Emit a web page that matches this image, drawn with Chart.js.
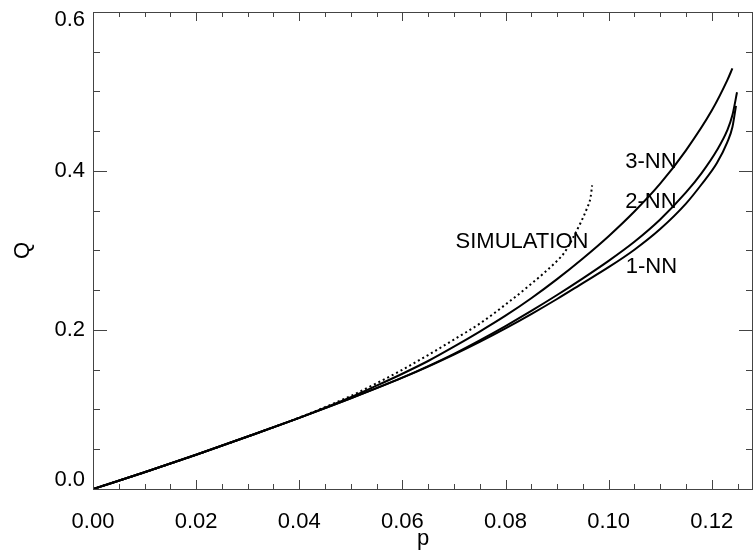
<!DOCTYPE html>
<html>
<head>
<meta charset="utf-8">
<script src="https://cdn.jsdelivr.net/npm/chart.js@4/dist/chart.umd.min.js"></script>
<style>
  body { margin: 0; background: #fff; }
  canvas { display: block; }
</style>
</head>
<body>
<canvas id="myChart" width="754" height="554"></canvas>
<script>
// values
const nn1P = [0, 0.01, 0.02, 0.03, 0.04, 0.05, 0.06, 0.065, 0.07, 0.075, 0.08, 0.085, 0.09, 0.095, 0.1, 0.105, 0.11, 0.115, 0.118, 0.121, 0.123, 0.124, 0.1247];
const nn1Q = [0, 0.021, 0.043, 0.066, 0.0895, 0.114, 0.140, 0.154, 0.169, 0.185, 0.202, 0.220, 0.239, 0.259, 0.279, 0.301, 0.327, 0.359, 0.383, 0.410, 0.436, 0.455, 0.482];

const nn2P = [0, 0.01, 0.02, 0.03, 0.04, 0.05, 0.06, 0.065, 0.07, 0.075, 0.08, 0.085, 0.09, 0.095, 0.1, 0.105, 0.11, 0.115, 0.118, 0.121, 0.123, 0.124, 0.1249];
const nn2Q = [0, 0.021, 0.043, 0.066, 0.0895, 0.114, 0.140, 0.1545, 0.170, 0.187, 0.205, 0.224, 0.244, 0.265, 0.287, 0.311, 0.339, 0.373, 0.397, 0.426, 0.451, 0.470, 0.499];

const nn3P = [0, 0.01, 0.02, 0.03, 0.04, 0.05, 0.055, 0.06, 0.065, 0.07, 0.075, 0.08, 0.085, 0.09, 0.095, 0.1, 0.105, 0.11, 0.115, 0.12, 0.123, 0.124];
const nn3Q = [0, 0.021, 0.043, 0.066, 0.0895, 0.1155, 0.130, 0.145, 0.161, 0.179, 0.198, 0.218, 0.240, 0.264, 0.290, 0.318, 0.349, 0.384, 0.426, 0.476, 0.514, 0.529];

const simP = [0, 0.01, 0.02, 0.03, 0.04, 0.045, 0.05, 0.055, 0.06, 0.065, 0.07, 0.075, 0.08, 0.085, 0.09, 0.0915, 0.093, 0.0945, 0.0958, 0.0965, 0.0968];
const simQ = [0, 0.021, 0.043, 0.066, 0.0898, 0.103, 0.117, 0.133, 0.150, 0.1685, 0.188, 0.208, 0.232, 0.258, 0.287, 0.298, 0.315, 0.334, 0.353, 0.367, 0.382];

const xTicks = [0, 0.02, 0.04, 0.06, 0.08, 0.10, 0.12];
const xTickLabels = ['0.00', '0.02', '0.04', '0.06', '0.08', '0.10', '0.12'];
const yTicks = [0, 0.2, 0.4, 0.6];
const yTickLabels = ['0.0', '0.2', '0.4', '0.6'];

// curve names, placed in data units
const curveNames = ['3-NN', '2-NN', '1-NN', 'SIMULATION'];
const nameP = [0.1082, 0.1082, 0.1083, 0.0832];
const nameQ = [0.411, 0.361, 0.279, 0.311];

const pts = (xs, ys) => xs.map((x, i) => ({ x: x, y: ys[i] }));
const FONT = '"Liberation Sans", Arial, sans-serif';

// frame with inward ticks on all four sides, y labels (kept inside the frame height) + curve names
const framePlugin = {
    id: 'frame',
    afterDraw(chart) {
        const { ctx, chartArea: a, scales } = chart;
        const xs = scales.x, ys = scales.y;
        ctx.save();
        ctx.strokeStyle = '#444';
        ctx.lineWidth = 1;
        ctx.strokeRect(a.left + 0.5, a.top + 0.5, a.right - a.left - 1, a.bottom - a.top);
        ctx.beginPath();
        for (let i = 0; i <= 25; i++) {
            const v = i * 0.005;
            const px = Math.round(xs.getPixelForValue(v)) + 0.5;
            const len = i % 4 === 0 ? 9 : 5;
            ctx.moveTo(px, a.bottom); ctx.lineTo(px, a.bottom - len);
            ctx.moveTo(px, a.top); ctx.lineTo(px, a.top + len);
        }
        for (let i = 0; i <= 12; i++) {
            const v = i * 0.05;
            const py = Math.round(ys.getPixelForValue(v)) + 0.5;
            const len = i % 4 === 0 ? 14 : 7;
            ctx.moveTo(a.left, py); ctx.lineTo(a.left + len, py);
            ctx.moveTo(a.right, py); ctx.lineTo(a.right - len, py);
        }
        ctx.stroke();

        ctx.fillStyle = '#000';
        ctx.font = '22px ' + FONT;
        ctx.textBaseline = 'middle';
        ctx.textAlign = 'right';
        yTicks.forEach((v, i) => {
            let py = ys.getPixelForValue(v);
            py = Math.min(Math.max(py, a.top + 8), a.bottom - 9);
            ctx.fillText(yTickLabels[i], a.left - 8, py);
        });

        ctx.textAlign = 'center';
        curveNames.forEach((t, i) => {
            ctx.fillText(t, xs.getPixelForValue(nameP[i]), ys.getPixelForValue(nameQ[i]));
        });
        ctx.restore();
    }
};

const canvas = document.querySelector('#myChart');

new Chart(canvas, {
    type: 'line',
    data: {
        datasets: [
            { data: pts(nn1P, nn1Q), borderColor: '#000', borderWidth: 2, pointRadius: 0, cubicInterpolationMode: 'monotone' },
            { data: pts(nn2P, nn2Q), borderColor: '#000', borderWidth: 2, pointRadius: 0, cubicInterpolationMode: 'monotone' },
            { data: pts(nn3P, nn3Q), borderColor: '#000', borderWidth: 2, pointRadius: 0, cubicInterpolationMode: 'monotone' },
            { data: pts(simP, simQ), borderColor: '#000', borderWidth: 2, borderDash: [2, 3], pointRadius: 0, cubicInterpolationMode: 'monotone' }
        ]
    },
    options: {
        responsive: false,
        animation: false,
        layout: { padding: { top: 12, right: 1, left: 0, bottom: 0 } },
        plugins: { legend: { display: false }, tooltip: { enabled: false } },
        scales: {
            x: {
                type: 'linear',
                min: 0,
                max: 0.128,
                grid: { display: false },
                border: { display: false },
                afterBuildTicks: (s) => { s.ticks = xTicks.map(v => ({ value: v })); },
                afterFit: (s) => { s.height = 65; s.paddingLeft = 0; s.paddingRight = 0; },
                ticks: {
                    color: '#000',
                    font: { family: FONT, size: 22 },
                    padding: 12,
                    maxRotation: 0,
                    callback: (v, i) => xTickLabels[i]
                },
                title: { display: true, text: 'p', color: '#000', font: { family: FONT, size: 22 }, padding: { top: 0, bottom: 2 } }
            },
            y: {
                min: 0,
                max: 0.6,
                grid: { display: false },
                border: { display: false },
                afterBuildTicks: (s) => { s.ticks = yTicks.map(v => ({ value: v })); },
                afterFit: (s) => { s.width = 93; s.paddingTop = 0; s.paddingBottom = 0; },
                ticks: { display: false },
                title: { display: true, text: 'Q', color: '#000', font: { family: FONT, size: 22 }, padding: { top: 10, bottom: 0 } }
            }
        }
    },
    plugins: [framePlugin]
});
</script>
</body>
</html>
